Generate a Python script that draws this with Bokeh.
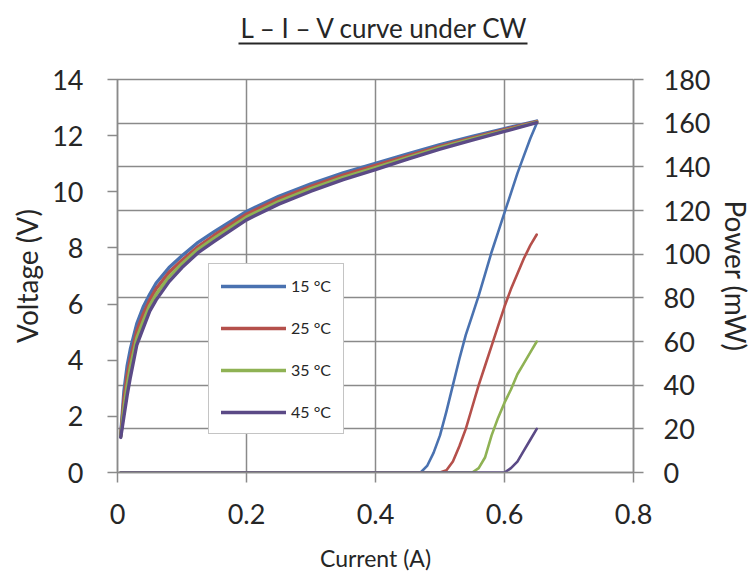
from bokeh.plotting import figure
from bokeh.models import (Range1d, LinearAxis, FixedTicker, NumeralTickFormatter,
                          Legend, LegendItem)
from bokeh.embed import file_html
from bokeh.resources import INLINE

# ---------------- data ----------------
title_text = "L \u2013 I \u2013 V curve under CW"
series_labels = ["15 \u00b0C", "25 \u00b0C", "35 \u00b0C", "45 \u00b0C"]
series_colors = ["#4A72B0", "#B5504B", "#8FB254", "#5B4A86"]

current_v = [0.005, 0.01, 0.015, 0.02, 0.03, 0.04, 0.05, 0.06, 0.08, 0.10, 0.125,
             0.15, 0.20, 0.25, 0.30, 0.35, 0.40, 0.45, 0.50, 0.55, 0.60, 0.65]
voltage_15 = [1.35, 2.9, 3.8, 4.4, 5.3, 5.9, 6.35, 6.75, 7.3, 7.72, 8.2,
              8.58, 9.3, 9.84, 10.28, 10.67, 11.01, 11.35, 11.68, 11.97, 12.25, 12.52]
voltage_25 = [1.3, 2.6, 3.45, 4.05, 5.05, 5.65, 6.15, 6.55, 7.13, 7.56, 8.05,
              8.45, 9.2, 9.75, 10.19, 10.59, 10.94, 11.28, 11.62, 11.92, 12.21, 12.5]
voltage_35 = [1.28, 2.3, 3.1, 3.75, 4.8, 5.4, 5.95, 6.35, 6.97, 7.44, 7.95,
              8.35, 9.1, 9.65, 10.11, 10.51, 10.86, 11.22, 11.57, 11.88, 12.18, 12.48]
voltage_45 = [1.25, 2.0, 2.75, 3.4, 4.55, 5.15, 5.75, 6.15, 6.8, 7.3, 7.83,
              8.23, 9.0, 9.56, 10.02, 10.43, 10.79, 11.16, 11.52, 11.84, 12.15, 12.46]

current_p = [0.005, 0.45, 0.47, 0.48, 0.49, 0.50, 0.51, 0.52, 0.53, 0.54, 0.55,
             0.56, 0.57, 0.58, 0.59, 0.60, 0.61, 0.62, 0.63, 0.64, 0.65]
power_15 = [0, 0, 0, 3, 9, 17, 28, 40, 52, 63, 72, 81, 91, 101, 110, 119, 128, 137, 145, 153, 160]
power_25 = [0, 0, 0, 0, 0, 0, 1, 5, 12, 20, 30, 40, 49, 58, 67, 76, 84, 91, 98, 104, 109]
power_35 = [0, 0, 0, 0, 0, 0, 0, 0, 0, 0, 0, 2, 7, 17, 25, 32, 38, 45, 50, 55, 60]
power_45 = [0, 0, 0, 0, 0, 0, 0, 0, 0, 0, 0, 0, 0, 0, 0, 0, 2, 5, 10, 15, 20]

x_ticks = [0, 0.2, 0.4, 0.6, 0.8]
v_ticks = [0, 2, 4, 6, 8, 10, 12, 14]
p_ticks = [0, 20, 40, 60, 80, 100, 120, 140, 160, 180]

voltages = [voltage_15, voltage_25, voltage_35, voltage_45]
powers = [power_15, power_25, power_35, power_45]

# ---------------- figure ----------------
FONT = "Lato"
GRID = "#8a8a8a"
TXT = "#262626"

p = figure(width=756, height=578, output_backend="svg", toolbar_location=None,
           x_range=Range1d(0, 0.8), y_range=Range1d(0, 14),
           min_border_left=117, min_border_right=123, min_border_top=79, min_border_bottom=106)
p.extra_y_ranges = {"power": Range1d(0, 180)}
p.background_fill_color = "white"
p.border_fill_color = "white"
p.outline_line_color = GRID
p.outline_line_width = 1.5

xa = p.below[0]
ya = p.left[0]

# title (underlined)
p.title.text = title_text
p.title.align = "left"
p.title.offset = 123
p.title.text_font = FONT
p.title.text_font_size = "26px"
p.title.text_font_style = "normal"
p.title.text_color = TXT
p.title.standoff = 0

# blank spacer band between plot frame and the title block
spacer = LinearAxis(ticker=FixedTicker(ticks=[0.8]), axis_line_color=None,
                    major_tick_line_color="white", major_tick_line_alpha=1.0,
                    minor_tick_line_color=None,
                    major_tick_out=36, major_tick_in=0,
                    major_label_overrides={0.8: ""}, major_label_text_color=None,
                    major_label_text_font_size="1px", major_label_standoff=0)
p.add_layout(spacer, "above")

underline = LinearAxis(ticker=FixedTicker(ticks=[]), bounds=(0.1876, 0.6357),
                       axis_line_color=TXT, axis_line_width=2,
                       major_tick_line_color=None, minor_tick_line_color=None,
                       major_tick_out=0, major_tick_in=0,
                       major_label_text_font_size="0px", major_label_standoff=0)
p.add_layout(underline, "above")

def style_axis(ax, label_size):
    ax.axis_line_color = GRID
    ax.axis_line_width = 1.5
    ax.major_tick_line_color = GRID
    ax.major_tick_line_width = 1.5
    ax.major_tick_out = 10
    ax.major_tick_in = 0
    ax.minor_tick_line_color = None
    ax.major_label_text_font = FONT
    ax.major_label_text_font_size = "27px"
    ax.major_label_text_color = TXT
    ax.axis_label_text_font = FONT
    ax.axis_label_text_font_size = label_size
    ax.axis_label_text_font_style = "normal"
    ax.axis_label_text_color = TXT

xa.ticker = FixedTicker(ticks=x_ticks)
xa.formatter = NumeralTickFormatter(format="0.[0]")
xa.axis_label = "Current (A)"
xa.major_label_standoff = 21
xa.axis_label_standoff = 17
style_axis(xa, "23px")

ya.ticker = FixedTicker(ticks=v_ticks)
ya.axis_label = "Voltage (V)"
ya.major_label_standoff = 24
ya.axis_label_standoff = 5
style_axis(ya, "28px")

yr = LinearAxis(y_range_name="power", ticker=FixedTicker(ticks=p_ticks), axis_label="Power (mW)")
yr.major_label_standoff = 20
yr.axis_label_standoff = 6
style_axis(yr, "28px")
p.add_layout(yr, "right")

# grids
p.xgrid.ticker = FixedTicker(ticks=x_ticks)
p.xgrid.grid_line_color = GRID
p.xgrid.grid_line_width = 1.5
p.ygrid.ticker = FixedTicker(ticks=p_ticks)
p.ygrid.y_range_name = "power"
p.ygrid.grid_line_color = GRID
p.ygrid.grid_line_width = 1.5

# data lines
items = []
for lab, col, v, pw in zip(series_labels, series_colors, voltages, powers):
    rv = p.line(current_v, v, line_color=col, line_width=3.4, line_join="round", line_cap="round")
    rp = p.line(current_p, pw, line_color=col, line_width=2.6, line_join="round", line_cap="round",
                y_range_name="power")
    items.append(LegendItem(label=lab, renderers=[rv, rp]))

legend = Legend(items=items, location=(91, 38), orientation="vertical",
                glyph_width=65, glyph_height=18, label_height=18, spacing=23,
                padding=12, margin=0, label_standoff=5,
                label_text_font=FONT, label_text_font_size="16px", label_text_color=TXT,
                border_line_color=GRID, border_line_width=1.2,
                background_fill_color="white", background_fill_alpha=1.0)
p.add_layout(legend, "center")

open("out.html", "w").write(file_html(p, INLINE))
